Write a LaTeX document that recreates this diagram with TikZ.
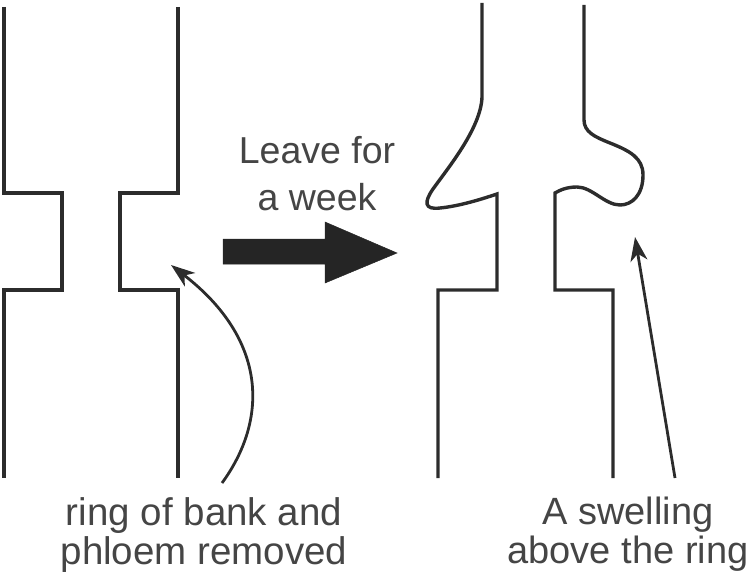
\documentclass[tikz,border=0pt]{standalone}
\usepackage{fontspec}
\setmainfont{Liberation Sans}
\usetikzlibrary{arrows.meta}
\definecolor{ink}{HTML}{2C2C2C}
\definecolor{txt}{HTML}{454545}
\tikzset{
  stem/.style={draw=ink, line width=3.4pt, line join=miter},
  pointer/.style={draw=ink, line width=2.8pt, -{Stealth[length=24pt,width=17pt,inset=7pt]}},
  label/.style={text=txt, align=center, inner sep=0pt},
  bigarrow/.style={fill=ink!85!black, draw=ink!85!black, line width=0.5pt}
}
\begin{document}
\begin{tikzpicture}[x=1pt,y=-1pt]
\useasboundingbox (0,0) rectangle (751,580);
% left stem
\draw[stem] (4,7) -- (4,193) -- (62,193) -- (62,290) -- (4,290) -- (4,478);
\draw[stem] (178,7) -- (178,193) -- (120,193) -- (120,290) -- (178,290) -- (178,478);
% right stem (with swelling)
\draw[stem] (482,3) -- (482,97)
  .. controls (481,128) and (448,168) .. (433,189)
  .. controls (424,202) and (424,210) .. (440,208)
  .. controls (460,206) and (482,199) .. (497,194)
  -- (497,290) -- (438,290) -- (438,478);
\draw[stem] (584,5) -- (584,120)
  .. controls (584,132) and (595,137) .. (610,143)
  .. controls (630,151) and (643,158) .. (643,175)
  .. controls (643,195) and (632,205) .. (620,205)
  .. controls (605,205) and (592,187) .. (577,187)
  .. controls (567,187) and (560,190) .. (555,193)
  -- (555,290) -- (613,290) -- (613,478);
% big arrow
\path[bigarrow] (223,239) -- (325,239) -- (325,222) -- (397,253) -- (325,283) -- (325,264) -- (223,264) -- cycle;
% labels
\node[label, font=\fontsize{37.5}{47}\selectfont] (leave) at (317,174) {Leave for\\a week};
\node[label, font=\fontsize{38.5}{39}\selectfont, anchor=north] (ring) at (204,497) {ring of bank and\\phloem removed};
\node[label, font=\fontsize{38}{39}\selectfont, anchor=north] (swell) at (628,497) {A swelling\\above the ring};
% pointers
\coordinate (ringtail) at (222,483);
\coordinate (ringtip) at (171,265);
\coordinate (swelltail) at (675,478);
\coordinate (swelltip) at (635,237);
\draw[pointer] (ringtail) .. controls (268,420) and (268,340) .. (ringtip);
\draw[pointer] (swelltail) -- (swelltip);
\end{tikzpicture}
\end{document}
